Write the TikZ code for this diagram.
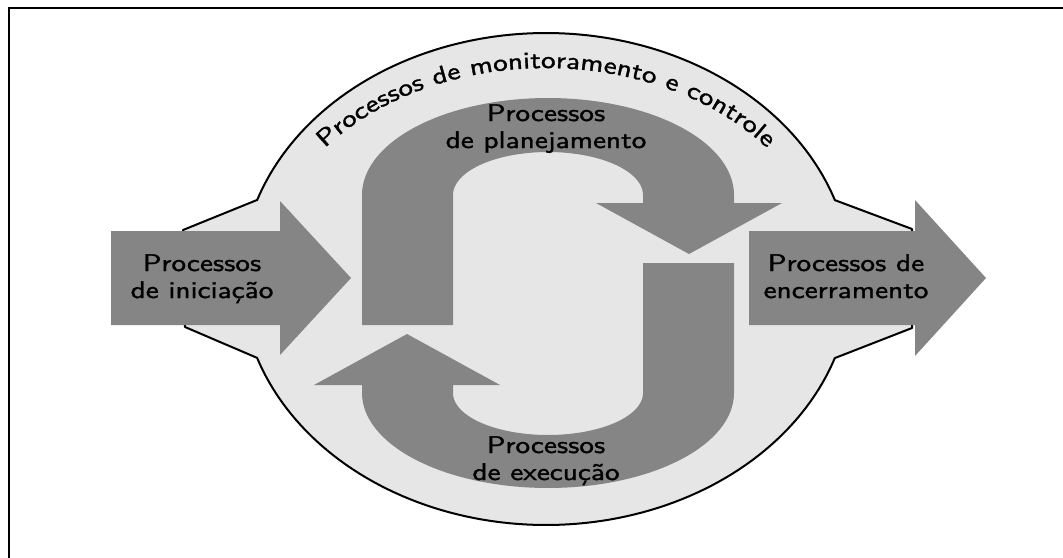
\documentclass[tikz,border=0pt]{standalone}
\usepackage{fontspec}
\setmainfont{lmsans10-regular.otf}[FakeStretch=1.22,FakeBold=1.3]
\usetikzlibrary{decorations.text}
\definecolor{darkfill}{HTML}{858585}
\definecolor{lightfill}{HTML}{E6E6E6}
\tikzset{
  procarrow/.style={fill=darkfill, draw=none},
  blobstyle/.style={fill=lightfill, draw=black, line width=2pt, line join=round},
  labeltext/.style={align=center, font=\fontsize{24}{27}\selectfont, text=black, inner sep=0pt, anchor=base},
  framestyle/.style={draw=black, line width=1.6pt}
}
\begin{document}
\begin{tikzpicture}[x=1pt,y=-1pt]
\useasboundingbox (0,0) rectangle (1063,557);
% frame (only top and left edges visible)
\draw[framestyle] (9,620) -- (9,8) -- (1120,8);
% monitoring blob
\path[blobstyle] (183,230) -- (257,200)
  -- plot[domain=198.7:341.3,samples=90] ({546+305*cos(\x)},{279+246*sin(\x)})
  -- (912,229) -- (912,328) -- (835,358)
  -- plot[domain=18.7:161.3,samples=90] ({546+305*cos(\x)},{279+246*sin(\x)})
  -- (185,327) -- cycle;
% curved label
\path[decorate, decoration={text along path,
  text={|\fontsize{24}{27}\selectfont|Processos de monitoramento e controle},
  text align=center}]
  plot[domain=150:390,samples=160] ({546+282*cos(\x)},{279+211*sin(\x)});
% initiation arrow
\path[procarrow] (111,231) -- (280,231) -- (280,201) -- (351,278) -- (280,355) -- (280,325) -- (111,325) -- cycle;
% closing arrow
\path[procarrow] (749,231) -- (915,231) -- (915,200) -- (986,278) -- (915,356) -- (915,325) -- (749,325) -- cycle;
% planning arrow
\path[procarrow] (362,325) -- (362,195)
  -- plot[domain=180:360,samples=80] ({548+186*cos(\x)},{195+97*sin(\x)})
  -- (734,203) -- (782,203) -- (689,254) -- (596,203) -- (643,203)
  -- plot[domain=360:180,samples=80] ({548+95*cos(\x)},{195+43*sin(\x)})
  -- (453,325) -- cycle;
% execution arrow
\path[procarrow] (734,263) -- (734,393)
  -- plot[domain=0:180,samples=80] ({548+186*cos(\x)},{393+95*sin(\x)})
  -- (362,385) -- (314,385) -- (407,334) -- (500,385) -- (453,385)
  -- plot[domain=180:0,samples=80] ({548+95*cos(\x)},{393+42*sin(\x)})
  -- (643,263) -- cycle;
% labels (anchor base = baseline of the last line)
\node[labeltext] (ini) at (202,298) {Processos\\de iniciação};
\node[labeltext] (enc) at (846,298) {Processos de\\encerramento};
\node[labeltext] (plan) at (546,148) {Processos\\de planejamento};
\node[labeltext] (exe) at (546,480) {Processos\\de execução};
\end{tikzpicture}
\end{document}
